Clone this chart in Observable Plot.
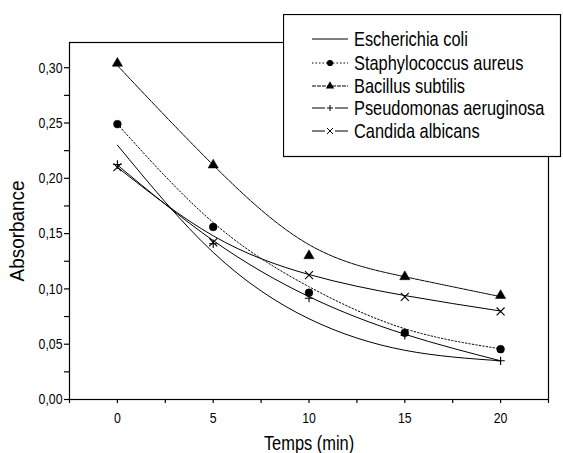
<!DOCTYPE html>
<html>
<head>
<meta charset="utf-8">
<script src="https://cdn.jsdelivr.net/npm/d3@7"></script>
<script src="https://cdn.jsdelivr.net/npm/@observablehq/plot@0.6"></script>
<style>
  html, body { margin: 0; padding: 0; background: #fff; }
  #wrap { position: relative; width: 563px; height: 453px; overflow: hidden; }
  #legend { position: absolute; left: 283px; top: 14px; }
</style>
</head>
<body>
<div id="wrap"></div>
<script>
// ---- data ----
const times = [0, 5, 10, 15, 20];
const seriesNames = ["Escherichia coli", "Staphylococcus aureus", "Bacillus subtilis", "Pseudomonas aeruginosa", "Candida albicans"];
// fitted curves (as drawn)
const ecoliFit = [0.230, 0.133, 0.073, 0.0445, 0.035];
const staphFit = [0.249, 0.160, 0.102, 0.064, 0.0458];
const bacFit   = [0.302, 0.212, 0.140, 0.111, 0.093];
const pseFit   = [0.212, 0.1437, 0.093, 0.059, 0.035];
const canFit   = [0.210, 0.148, 0.113, 0.094, 0.080];
// measured points (markers)
const staphObs = [0.249, 0.156, 0.0965, 0.0603, 0.0455];
const bacObs   = [0.304, 0.212, 0.130, 0.111, 0.094];
const pseObs   = [0.2125, 0.1408, 0.0916, 0.058, 0.035];
const canObs   = [0.210, 0.142, 0.1124, 0.0928, 0.0796];
// ticks
const xMajor = [0, 5, 10, 15, 20];
const xMinor = [-2.5, 2.5, 7.5, 12.5, 17.5, 22.5];
const yMajor = [0, 0.05, 0.10, 0.15, 0.20, 0.25, 0.30];
const yMinor = [0.025, 0.075, 0.125, 0.175, 0.225, 0.275];

const toRows = (vals) => times.map((t, i) => ({t, v: vals[i]}));
const fmt = d => d.toFixed(2).replace(".", ",");
const FONT = "'Liberation Sans', Arial, sans-serif";
const SQUEEZE = 0.82; // the reference uses a condensed face

const styles = [
  {fit: ecoliFit, obs: null, dash: null, symbol: null},
  {fit: staphFit, obs: staphObs, dash: "1.5,2", symbol: "circle", fill: "black", r: 3.9, legSize: 30},
  {fit: bacFit, obs: bacObs, dash: "4,1", symbol: "triangle", fill: "black", r: 3.8, legSize: 30},
  {fit: pseFit, obs: pseObs, dash: null, symbol: "plus", fill: "none", r: 2.8, legSize: 14},
  {fit: canFit, obs: canObs, dash: null, symbol: "times", fill: "none", r: 3.7, legSize: 25}
];

const marks = [
  Plot.frame({stroke: "black", strokeWidth: 1.2}),
  Plot.axisX(xMajor, {tickSize: 4, tickPadding: 9, tickFormat: d => String(d), fontSize: 15, label: null, strokeWidth: 1.2}),
  Plot.axisX(xMinor, {tickSize: 4, tickFormat: () => "", label: null, strokeWidth: 1.2}),
  Plot.axisY(yMajor, {tickSize: 5, tickPadding: 2, tickFormat: fmt, fontSize: 15, label: null, strokeWidth: 1.2}),
  Plot.axisY(yMinor, {tickSize: 5, tickFormat: () => "", label: null, strokeWidth: 1.2}),
  Plot.text(["Temps (min)"], {frameAnchor: "bottom", dy: 50, fontSize: 20, fill: "black"}),
  Plot.text(["Absorbance"], {frameAnchor: "left", textAnchor: "middle", dx: -52, dy: 10, rotate: -90, fontSize: 21, fill: "black"})
];
for (const s of styles) {
  marks.push(Plot.line(toRows(s.fit), {x: "t", y: "v", curve: "natural", stroke: "black", strokeWidth: 1, strokeDasharray: s.dash || undefined}));
  if (s.obs) {
    marks.push(Plot.dot(toRows(s.obs), {x: "t", y: "v", symbol: () => s.symbol, r: s.r, fill: s.fill, stroke: "black", strokeWidth: s.fill === "none" ? 1.1 : 0.5}));
  }
}

const chart = Plot.plot({
  width: 563,
  height: 453,
  marginLeft: 69,
  marginRight: 15,
  marginTop: 42,
  marginBottom: 54,
  style: {fontFamily: FONT, fontSize: "15px", color: "black", background: "white", overflow: "visible"},
  x: {domain: [-2.5, 22.5], axis: null},
  y: {domain: [0, 0.3228], axis: null},
  symbol: {type: "identity"},
  marks
});

const wrap = document.getElementById("wrap");
wrap.appendChild(chart);

// condense every text horizontally (no condensed font is installed)
d3.select(chart).selectAll("text").each(function () {
  if (!this.textContent) return;
  const k = this.textContent === "Absorbance" ? 0.9 : SQUEEZE;
  const w = this.getComputedTextLength();
  if (w > 0) {
    this.setAttribute("textLength", (w * k).toFixed(2));
    this.setAttribute("lengthAdjust", "spacingAndGlyphs");
  }
});

// ---- legend box (overlay) ----
const lg = d3.select(wrap).append("svg").attr("id", "legend")
  .attr("width", 280).attr("height", 145)
  .style("font-family", FONT);
lg.append("rect").attr("x", 0.5).attr("y", 0.5).attr("width", 277).attr("height", 142)
  .attr("fill", "white").attr("stroke", "black").attr("stroke-width", 1.2);
const legY = [25, 49, 72, 94, 117];
const symMap = {circle: d3.symbolCircle, triangle: d3.symbolTriangle, plus: d3.symbolPlus, times: d3.symbolTimes};
seriesNames.forEach((name, i) => {
  const s = styles[i];
  const g = lg.append("g").attr("transform", `translate(0,${legY[i]})`);
  const segs = s.fill === "none" ? [[29, 42], [52, 65]] : [[29, 65]];
  for (const [a, b] of segs) {
    g.append("line").attr("x1", a).attr("x2", b).attr("y1", 0).attr("y2", 0)
      .attr("stroke", "black").attr("stroke-width", 1)
      .attr("stroke-dasharray", s.dash || null);
  }
  if (s.symbol) {
    g.append("path").attr("transform", "translate(47,0)")
      .attr("d", d3.symbol(symMap[s.symbol], s.legSize)())
      .attr("fill", s.fill).attr("stroke", s.fill === "none" ? "black" : "none").attr("stroke-width", 1);
  }
  g.append("text").attr("transform", `translate(71,0) scale(${SQUEEZE},1)`).attr("dy", "0.35em")
    .attr("font-size", 20).attr("fill", "black").text(name);
});
</script>
</body>
</html>
